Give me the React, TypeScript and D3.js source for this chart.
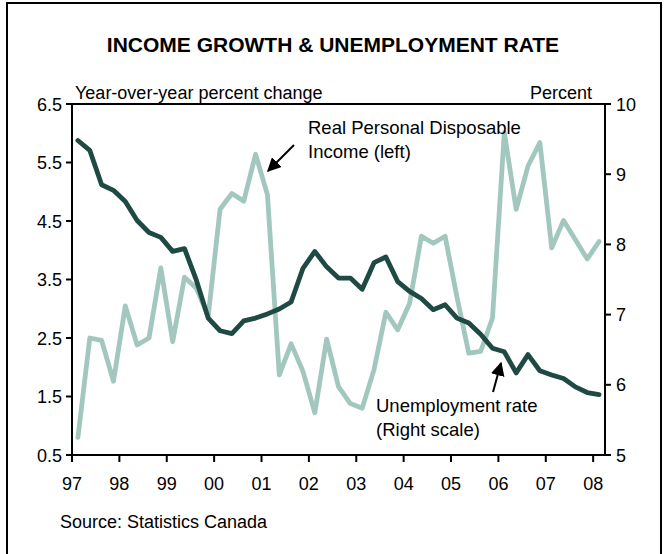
import React from "react";
import * as d3 from "d3";

const yearLabels = ["97", "98", "99", "00", "01", "02", "03", "04", "05", "06", "07", "08"];

// Real personal disposable income, y/y % change (left scale), quarterly 1997Q1-2008Q1
const incomeGrowth = [
  0.8, 2.5, 2.46, 1.76, 3.05, 2.38, 2.5, 3.7, 2.44, 3.54, 3.35, 2.87,
  4.7, 4.97, 4.84, 5.64, 4.95, 1.87, 2.4, 1.93, 1.22, 2.48, 1.67, 1.38,
  1.3, 1.96, 2.94, 2.64, 3.09, 4.24, 4.12, 4.24, 3.2, 2.24, 2.27, 2.84,
  6.01, 4.7, 5.44, 5.84, 4.04, 4.51, 4.18, 3.85, 4.15,
];

// Unemployment rate, % (right scale)
const unemploymentRate = [
  9.48, 9.34, 8.85, 8.77, 8.61, 8.34, 8.17, 8.1, 7.9, 7.94, 7.49, 6.95,
  6.77, 6.73, 6.91, 6.95, 7.01, 7.08, 7.18, 7.66, 7.9, 7.68, 7.52, 7.52,
  7.36, 7.74, 7.82, 7.47, 7.33, 7.23, 7.07, 7.14, 6.95, 6.88, 6.72, 6.52,
  6.47, 6.17, 6.43, 6.2, 6.14, 6.09, 5.97, 5.89, 5.86,
];

const leftTicks = [0.5, 1.5, 2.5, 3.5, 4.5, 5.5, 6.5];
const rightTicks = [5, 6, 7, 8, 9, 10];

const FONT = "'Liberation Sans', Arial, sans-serif";
const DARK = "#1f4a44";
const LIGHT = "#a2c7be";

export default function App() {
  const left = 72, right = 605, top = 104, bottom = 455;
  const x = d3.scaleLinear().domain([0, 45]).range([left, right]);
  const yL = d3.scaleLinear().domain([0.5, 6.5]).range([bottom, top]);
  const yR = d3.scaleLinear().domain([5, 10]).range([bottom, top]);

  const lineL = d3.line<number>().x((_, i) => x(i + 0.5)).y((d) => yL(d));
  const lineR = d3.line<number>().x((_, i) => x(i + 0.5)).y((d) => yR(d));

  return (
    <svg
      width={665}
      height={554}
      style={{ position: "absolute", left: 0, top: 0, background: "#fff" }}
      fontFamily={FONT}
    >
      <defs>
        <marker id="ah" viewBox="0 0 10 10" refX="9" refY="5" markerWidth="7" markerHeight="7" orient="auto">
          <path d="M0,0 L10,5 L0,10 z" fill="#000" />
        </marker>
      </defs>
      <rect x={0} y={0} width={665} height={554} fill="#fff" />
      {/* frame */}
      <path d="M7,560 L7,3 L661,3 L661,560" fill="none" stroke="#000" strokeWidth={2} />

      <text x={333} y={52} textAnchor="middle" fontSize={21} fontWeight="bold">
        INCOME GROWTH &amp; UNEMPLOYMENT RATE
      </text>

      <text x={75} y={99} fontSize={18}>Year-over-year percent change</text>
      <text x={592} y={99} fontSize={18} textAnchor="end">Percent</text>

      {/* series */}
      <path d={lineL(incomeGrowth) || ""} fill="none" stroke={LIGHT} strokeWidth={4.8} strokeLinejoin="round" strokeLinecap="round" />
      <path d={lineR(unemploymentRate) || ""} fill="none" stroke={DARK} strokeWidth={4.8} strokeLinejoin="round" strokeLinecap="round" />

      {/* axes frame */}
      <line x1={left} x2={right} y1={top} y2={top} stroke="#000" strokeWidth={2} />
      <line x1={left} x2={right} y1={bottom} y2={bottom} stroke="#000" strokeWidth={2} />
      <line x1={left} x2={left} y1={top} y2={bottom} stroke="#000" strokeWidth={2} />
      <line x1={right} x2={right} y1={top} y2={bottom} stroke="#000" strokeWidth={2} />

      {leftTicks.map((t) => (
        <g key={"l" + t}>
          <line x1={left - 6} x2={left} y1={yL(t)} y2={yL(t)} stroke="#000" strokeWidth={2} />
          <text x={left - 10} y={yL(t) + 6.5} fontSize={18} textAnchor="end">{t.toFixed(1)}</text>
        </g>
      ))}
      {rightTicks.map((t) => (
        <g key={"r" + t}>
          <line x1={right} x2={right + 6} y1={yR(t)} y2={yR(t)} stroke="#000" strokeWidth={2} />
          <text x={right + 11} y={yR(t) + 6.5} fontSize={18}>{t}</text>
        </g>
      ))}
      {yearLabels.map((lab, k) => (
        <g key={lab}>
          <line x1={x(k * 4)} x2={x(k * 4)} y1={bottom} y2={bottom + 7} stroke="#000" strokeWidth={2} />
          <text x={x(k * 4)} y={490} fontSize={18} textAnchor="middle">{lab}</text>
        </g>
      ))}

      {/* annotations */}
      <text x={308} y={134} fontSize={18.5}>Real Personal Disposable</text>
      <text x={308} y={158} fontSize={18.5}>Income (left)</text>
      <line x1={294} y1={145} x2={268} y2={171} stroke="#000" strokeWidth={2} markerEnd="url(#ah)" />

      <text x={376} y={412} fontSize={18.5}>Unemployment rate</text>
      <text x={376} y={436} fontSize={18.5}>(Right scale)</text>
      <line x1={493} y1={392} x2={501} y2={363} stroke="#000" strokeWidth={2} markerEnd="url(#ah)" />

      <text x={60} y={528} fontSize={18}>Source: Statistics Canada</text>
    </svg>
  );
}
